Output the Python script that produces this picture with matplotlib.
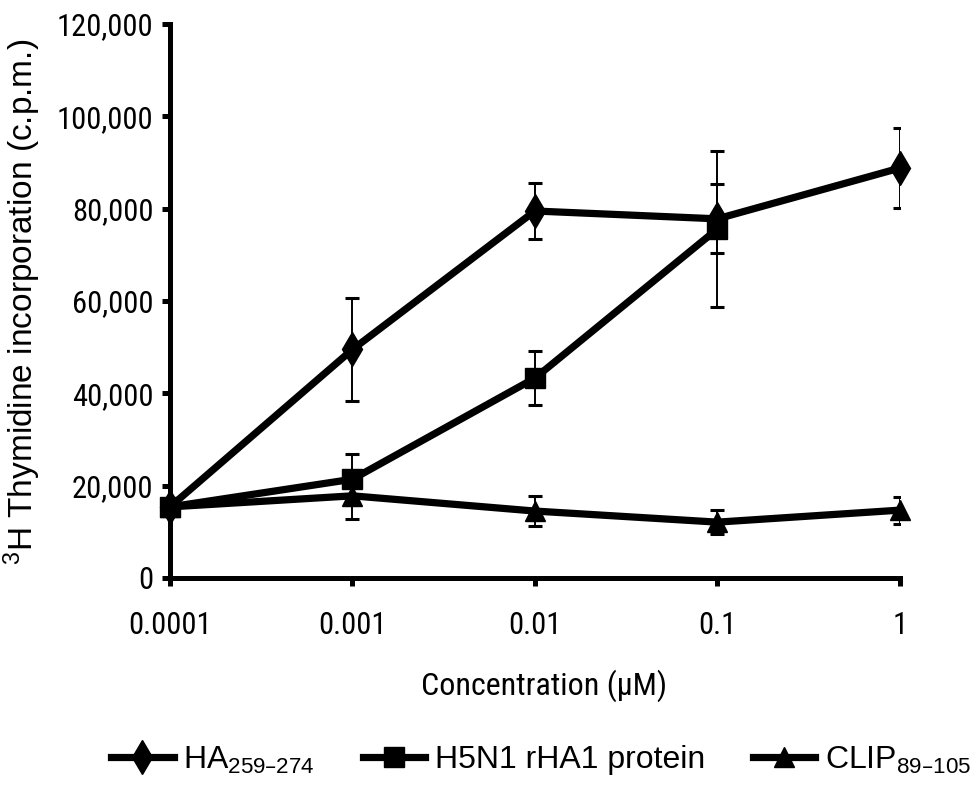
import matplotlib.pyplot as plt
from matplotlib.ticker import FixedLocator, FuncFormatter

COND = ['Roboto Condensed', 'DejaVu Sans']
REG = ['Liberation Sans', 'DejaVu Sans']
plt.rcParams['font.family'] = COND
plt.rcParams['font.stretch'] = 'condensed'
plt.rcParams['mathtext.default'] = 'regular'

# concentrations (uM) and proliferation (c.p.m.)
conc = [0.0001, 0.001, 0.01, 0.1, 1]
ha_peptide = [15400, 49500, 79500, 77800, 88800]
ha_peptide_err = [0, 11200, 6100, 7500, 8700]
rha1 = [15400, 21400, 43300, 75600, None]
rha1_err = [0, 5500, 5800, 17000, None]
clip = [15400, 17800, 14500, 12100, 14700]
clip_err = [0, 5000, 3200, 2600, 2900]

xticklabels = ['0.0001', '0.001', '0.01', '0.1', '1']
yticks = [0, 20000, 40000, 60000, 80000, 100000, 120000]

fig = plt.figure(figsize=(9.77, 7.88), dpi=100)
ax = fig.add_axes([0.174, 0.2665, 0.747, 0.703])

series = [
    (ha_peptide, ha_peptide_err, 'd', 17, 'HA$_{259\u2013274}$'),
    (rha1, rha1_err, 's', 14, 'H5N1 rHA1 protein'),
    (clip, clip_err, '^', 15, 'CLIP$_{89\u2013105}$'),
]
for vals, errs, mk, ms, lab in series:
    xs = [c for c, v in zip(conc, vals) if v is not None]
    ys = [v for v in vals if v is not None]
    es = [e for e in errs if e is not None]
    ax.errorbar(xs[1:], ys[1:], yerr=es[1:], fmt='none', ecolor='black',
                elinewidth=1.4, capsize=5, capthick=2.2, zorder=2)
    ax.plot(xs, ys, color='black', lw=5.2, marker=mk, ms=ms, mfc='black',
            mec='black', label=lab, zorder=3, clip_on=False)

ax.set_xscale('log')
ax.set_xlim(0.0001, 1)
ax.set_ylim(0, 120000)
ax.xaxis.set_major_locator(FixedLocator(conc))
ax.xaxis.set_minor_locator(FixedLocator([]))
ax.set_xticklabels(xticklabels)
ax.set_yticks(yticks)
ax.yaxis.set_major_formatter(FuncFormatter(lambda v, p: f'{int(v):,}'))

for s in ['top', 'right']:
    ax.spines[s].set_visible(False)
for s in ['left', 'bottom']:
    ax.spines[s].set_linewidth(3.6)
ax.tick_params(axis='both', which='major', direction='out', length=6,
               width=3.6, labelsize=22)
ax.tick_params(axis='x', pad=18)
ax.tick_params(axis='y', pad=6)

fig.text(544 / 977, 1 - 686 / 788, 'Concentration (\u03bcM)', fontsize=23,
         ha='center', va='center')
fig.text(22 / 977, 1 - 302 / 788, '$^{3}$H Thymidine incorporation (c.p.m.)',
         fontsize=24, rotation=90, ha='center', va='center',
         family=REG, fontstretch='normal')

fig.legend(loc='center', bbox_to_anchor=(541 / 977, 1 - 760 / 788), ncol=3,
           frameon=False, handlelength=1.95, columnspacing=1.5,
           handletextpad=0.3, prop={'family': REG, 'size': 23})

plt.savefig('out.png', dpi=100)
